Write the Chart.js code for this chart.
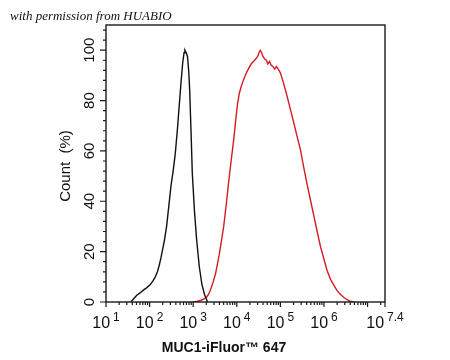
<!DOCTYPE html>
<html><head><meta charset="utf-8">
<script src="https://cdn.jsdelivr.net/npm/chart.js@4"></script>
<style>html,body{margin:0;padding:0;background:#fff}#wrap{width:450px;height:360px;position:relative}</style>
</head><body><div id="wrap"><canvas id="c"></canvas></div>
<script>
// log10 units for x
const isotypeX = [1.57,1.64,1.70,1.78,1.85,1.93,2.01,2.07,2.13,2.18,2.22,2.26,2.30,2.34,2.39,2.44,2.49,2.54,2.59,2.64,2.68,2.72,2.76,2.79,2.81,2.84,2.87,2.90,2.92,2.95,2.98,3.03,3.08,3.14,3.20,3.26,3.30,3.33];
const isotypeY = [0,1.4,2.6,3.6,4.6,5.6,6.8,8.2,10,12,14.5,17.5,21,24.5,30,38,46,52,59,69,78,87,95,99,100,99,97.5,91,84,68,51,36,24.5,14,7,3,1.3,0];
const mucX = [3.0,3.10,3.18,3.25,3.31,3.36,3.40,3.45,3.51,3.55,3.60,3.65,3.70,3.76,3.81,3.87,3.93,3.98,4.02,4.06,4.10,4.16,4.22,4.28,4.33,4.38,4.43,4.48,4.51,4.54,4.57,4.60,4.64,4.68,4.71,4.75,4.79,4.83,4.87,4.91,4.95,5.0,5.07,5.15,5.23,5.31,5.38,5.46,5.53,5.61,5.69,5.77,5.85,5.92,6.0,6.07,6.15,6.23,6.30,6.38,6.46,6.53,6.60,6.69];
const mucY = [0,0.3,0.7,1.2,2,3.3,5,7.5,11,14.5,19,24.5,30,39,47,56,64.5,73,79,83,85.5,88.5,91,93,94.5,95.5,96.4,97.5,99,100,99,97.5,96.5,96,94.5,95.5,94,93.5,92.5,93.5,92.5,91,87,82,76.5,71,66,60.5,54,47,40.5,34,27.5,22,17,12.6,9,6.6,4.5,3,1.8,0.9,0.3,0];
const xTickExp = ["1","2","3","4","5","6","7.4"];
const xTickVals = [1,2,3,4,5,6,7.4];
const yTickLabels = ["0","20","40","60","80","100"];
const xTitle = "MUC1-iFluor™ 647";
const yTitle = "Count  (%)";
const watermark = "with permission from HUABIO";

const toPts = (xs, ys) => xs.map((x, i) => ({x, y: ys[i]}));

const drawer = {
  id: 'drawer',
  afterDraw(chart) {
    const ctx = chart.ctx, a = chart.chartArea;
    const xs = chart.scales.x, ys = chart.scales.y;
    ctx.save();
    ctx.strokeStyle = '#1a1a1a';
    ctx.lineWidth = 1.4;
    ctx.strokeRect(a.left, a.top, a.right - a.left, a.bottom - a.top);
    ctx.lineWidth = 1.2;
    // x ticks
    ctx.beginPath();
    for (let d = 1; d <= 7; d++) {
      const px = xs.getPixelForValue(d);
      ctx.moveTo(px, a.bottom); ctx.lineTo(px, a.bottom + 5);
      for (let m = 2; m <= 9; m++) {
        const v = d + Math.log10(m);
        if (v > 7.4) break;
        const mp = xs.getPixelForValue(v);
        ctx.moveTo(mp, a.bottom); ctx.lineTo(mp, a.bottom + 3);
      }
    }
    const ep = xs.getPixelForValue(7.4);
    ctx.moveTo(ep, a.bottom); ctx.lineTo(ep, a.bottom + 5);
    // y ticks
    for (let v = 0; v <= 108; v += 4) {
      const py = ys.getPixelForValue(v);
      const major = v % 20 === 0;
      ctx.moveTo(a.left, py); ctx.lineTo(a.left - (major ? 6 : 3), py);
    }
    ctx.stroke();
    // x labels
    ctx.fillStyle = '#111';
    ctx.textBaseline = 'alphabetic';
    ctx.textAlign = 'left';
    const bigF = '16px "Liberation Sans", Arial, sans-serif';
    const supF = '12px "Liberation Sans", Arial, sans-serif';
    xTickVals.forEach((v, i) => {
      ctx.font = bigF; const w1 = ctx.measureText('10').width;
      ctx.font = supF; const w2 = ctx.measureText(xTickExp[i]).width;
      const gap = 3;
      const tot = w1 + gap + w2;
      const px = xs.getPixelForValue(v);
      const x0 = px - tot / 2;
      ctx.font = bigF; ctx.fillText('10', x0, a.bottom + 26);
      ctx.font = supF; ctx.fillText(xTickExp[i], x0 + w1 + gap, a.bottom + 19);
    });
    // y labels rotated
    ctx.font = '15px "Liberation Sans", Arial, sans-serif';
    ctx.textAlign = 'center';
    ctx.textBaseline = 'middle';
    yTickLabels.forEach((t) => {
      const py = ys.getPixelForValue(Number(t));
      ctx.save(); ctx.translate(90, py); ctx.rotate(-Math.PI / 2);
      ctx.fillText(t, 0, 0); ctx.restore();
    });
    // y title
    ctx.save(); ctx.translate(66, 166); ctx.rotate(-Math.PI / 2);
    ctx.font = '15px "Liberation Sans", Arial, sans-serif';
    ctx.fillText(yTitle, 0, 0); ctx.restore();
    // x title
    ctx.font = 'bold 14px "Liberation Sans", Arial, sans-serif';
    ctx.fillText(xTitle, 224, 348);
    // watermark
    ctx.font = 'italic 13px "Liberation Serif", "DejaVu Serif", serif';
    ctx.textAlign = 'left';
    ctx.textBaseline = 'alphabetic';
    ctx.fillText(watermark, 10, 20);
    ctx.restore();
  }
};

new Chart(document.getElementById('c'), {
  type: 'line',
  data: {
    datasets: [
      {label: 'Isotype', data: toPts(isotypeX, isotypeY), borderColor: '#111', borderWidth: 1.4, pointRadius: 0, tension: 0, fill: false},
      {label: 'MUC1', data: toPts(mucX, mucY), borderColor: '#d41c24', borderWidth: 1.4, pointRadius: 0, tension: 0, fill: false}
    ]
  },
  options: {
    responsive: true,
    maintainAspectRatio: false,
    animation: false,
    layout: {padding: {left: 106, top: 25, right: 65, bottom: 58}},
    plugins: {legend: {display: false}, tooltip: {enabled: false}},
    scales: {
      x: {type: 'linear', min: 1, max: 7.4, display: false},
      y: {type: 'linear', min: 0, max: 110, display: false}
    }
  },
  plugins: [drawer]
});
</script>
</body></html>
